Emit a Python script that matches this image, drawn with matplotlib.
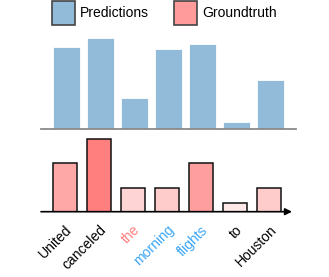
import matplotlib
matplotlib.use('Agg')
import matplotlib.pyplot as plt
import matplotlib.transforms as mtransforms
from matplotlib.patches import Patch

plt.rcParams['font.family'] = ['Liberation Sans', 'DejaVu Sans']

words = ['United', 'canceled', 'the', 'morning', 'flights', 'to', 'Houston']
word_colors = ['black', 'black', '#FF8080', '#3AA6F7', '#3AA6F7', 'black', 'black']
predictions = [0.83, 0.915, 0.31, 0.805, 0.86, 0.07, 0.495]
groundtruth = [2, 3, 1, 1, 2, 0.38, 1]
gt_colors = ['#FFA8A8', '#FF7F7F', '#FFD4D4', '#FFCCCC', '#FF9E9E', '#FFE8E8', '#FFCCCC']

pred_color = '#92BBDA'
W, H = 329, 277
fig = plt.figure(figsize=(W / 100, H / 100), dpi=100)

# top: predictions
ax1 = fig.add_axes([40.7 / W, 1 - 129 / H, 255.3 / W, 99 / H])
x = list(range(len(words)))
ax1.bar(x, predictions, width=0.8, color=pred_color, edgecolor='white', linewidth=0.6)
ax1.set_xlim(-0.75, 6.75)
ax1.set_ylim(0, 1)
ax1.plot([-0.75, 6.75], [0, 0], color='#8a8a8a', lw=1.3, clip_on=False, zorder=5)
ax1.axis('off')

# bottom: groundtruth
ax2 = fig.add_axes([(40.7 - 1.2) / W, 1 - 211.7 / H, 255.3 / W, 84.5 / H])
ax2.patch.set_visible(False)
ax2.bar(x, groundtruth, width=0.7, color=gt_colors, edgecolor='#111111', linewidth=1.1)
ax2.set_xlim(-0.75, 6.75)
ax2.set_ylim(0, 3.5)
for s in ax2.spines.values():
    s.set_visible(False)
ax2.set_yticks([])
ax2.set_xticks(x)
ax2.set_xticklabels(words, rotation=45, ha='right', rotation_mode='anchor', fontsize=10)
shift = mtransforms.ScaledTranslation(2 / 100, 0, fig.dpi_scale_trans)
for lab, c in zip(ax2.get_xticklabels(), word_colors):
    lab.set_color(c)
    lab.set_transform(lab.get_transform() + shift)
ax2.tick_params(axis='x', length=0, pad=8)
ax2.annotate('', xy=(1.0, 0), xytext=(-0.005, 0), xycoords='axes fraction',
             arrowprops=dict(arrowstyle='-|>', color='black', lw=1.2, mutation_scale=10))

handles = [Patch(facecolor=pred_color, edgecolor='#444444', lw=1.2, label='Predictions'),
           Patch(facecolor='#FF9B9B', edgecolor='#444444', lw=1.2, label='Groundtruth')]
fig.legend(handles=handles, loc='upper left', bbox_to_anchor=(51 / W, 1.0), ncol=2,
           frameon=False, fontsize=10, handlelength=1.65, handleheight=2.3,
           handletextpad=0.4, columnspacing=1.8, borderaxespad=0, borderpad=0.05)

fig.savefig('out.png', dpi=100)
